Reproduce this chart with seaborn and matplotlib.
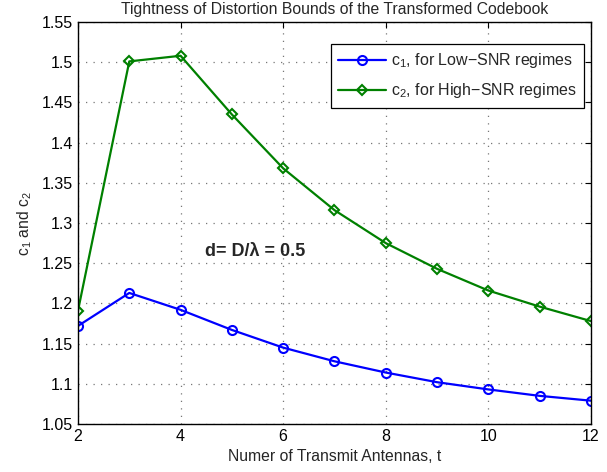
import pandas as pd
import matplotlib
matplotlib.use("Agg")
import matplotlib.pyplot as plt
import seaborn as sns

# --------------------------------------------------
# Data
# --------------------------------------------------

antennas = [2, 3, 4, 5, 6, 7, 8, 9, 10, 11, 12]
c1_low_snr = [1.172, 1.213, 1.192, 1.167, 1.145, 1.128, 1.114, 1.102, 1.093, 1.085, 1.079]
c2_high_snr = [1.191, 1.501, 1.508, 1.435, 1.368, 1.316, 1.275, 1.243, 1.216, 1.196, 1.178]

c1_label = r"c$_1$, for Low$-$SNR regimes"
c2_label = r"c$_2$, for High$-$SNR regimes"

df = pd.DataFrame({"t": antennas, "c1": c1_low_snr, "c2": c2_high_snr})

# --------------------------------------------------
# Style (MATLAB-ish look)
# --------------------------------------------------

sns.set_style("white")
plt.rcParams["font.family"] = ["Liberation Sans", "DejaVu Sans"]
plt.rcParams["mathtext.fontset"] = "custom"
plt.rcParams["mathtext.rm"] = "Liberation Sans"
plt.rcParams["xtick.direction"] = "in"
plt.rcParams["ytick.direction"] = "in"

fig = plt.figure(figsize=(6.07, 4.72), dpi=100)
ax = fig.add_axes([0.1285, 0.1017, 0.845, 0.8517])

sns.lineplot(
    data=df, x="t", y="c1", ax=ax, color=(0, 0, 1), linewidth=1.6,
    marker="o", markersize=6.5, markerfacecolor="none",
    markeredgecolor=(0, 0, 1), markeredgewidth=1.5, label=c1_label,
)
sns.lineplot(
    data=df, x="t", y="c2", ax=ax, color=(0, 0.5, 0), linewidth=1.6,
    marker="D", markersize=5.5, markerfacecolor="none",
    markeredgecolor=(0, 0.5, 0), markeredgewidth=1.5, label=c2_label,
)

ax.set_xlim(2, 12)
ax.set_ylim(1.05, 1.55)
ax.set_xticks([2, 4, 6, 8, 10, 12])
ax.set_yticks([1.05, 1.1, 1.15, 1.2, 1.25, 1.3, 1.35, 1.4, 1.45, 1.5, 1.55])
ax.set_yticklabels(["1.05", "1.1", "1.15", "1.2", "1.25", "1.3", "1.35",
                    "1.4", "1.45", "1.5", "1.55"])
ax.tick_params(labelsize=11.5, length=4, width=0.8, top=True, right=True, colors="black")

ax.grid(True, linestyle=(0, (1, 5)), color="#777777", linewidth=0.9)
for s in ax.spines.values():
    s.set_visible(True)
    s.set_color("black")
    s.set_linewidth(1.0)

ax.set_title("Tightness of Distortion Bounds of the Transformed Codebook", fontsize=11.3, pad=6)
ax.set_xlabel("Numer of Transmit Antennas, t", fontsize=11.3, labelpad=4)
ax.set_ylabel(r"c$_1$ and c$_2$", fontsize=11.3, labelpad=6)

ax.text(4.48, 1.265, "d= D/λ = 0.5", fontsize=13, fontweight="bold",
        va="center", ha="left")

leg = ax.legend(loc="upper right", bbox_to_anchor=(0.986, 0.945), fontsize=11.5,
                frameon=True, fancybox=False, edgecolor="black", framealpha=1,
                borderpad=0.45, labelspacing=0.7, handlelength=3.0,
                handletextpad=0.3, borderaxespad=0)
leg.get_frame().set_linewidth(0.9)

fig.savefig("out.png", dpi=100)
plt.close(fig)
print("Saved out.png")
